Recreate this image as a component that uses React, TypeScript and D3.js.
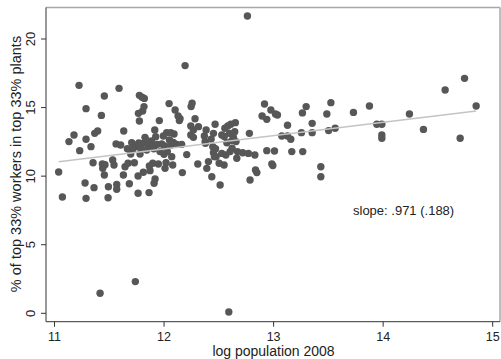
import React from "react";
import * as d3 from "d3";

// log population 2008 (x) and % of top 33% workers in top 33% plants (y)
const popX: number[] = [
  11.038, 11.072, 11.132, 11.178, 11.224, 11.23, 11.279, 11.288, 11.288, 11.288,
  11.333, 11.352, 11.361, 11.367, 11.394, 11.416, 11.428, 11.437, 11.44, 11.455,
  11.455, 11.461, 11.492, 11.489, 11.531, 11.543, 11.568, 11.568, 11.562, 11.589,
  11.604, 11.629, 11.632, 11.644, 11.665, 11.683, 11.671, 11.696, 11.705, 11.729,
  11.738, 11.747, 11.763, 11.763, 11.766, 11.775, 11.775, 11.781, 11.787, 11.799,
  11.805, 11.811, 11.817, 11.82, 11.811, 11.826, 11.842, 11.857, 11.863, 11.866,
  11.872, 11.887, 11.897, 11.906, 11.909, 11.915, 11.918, 11.924, 11.939, 11.957,
  11.963, 11.948, 11.979, 11.994, 12.003, 12.009, 12.018, 12.024, 12.03, 12.046,
  12.049, 12.061, 12.07, 12.079, 12.091, 12.101, 12.116, 12.128, 12.14, 12.146,
  12.161, 12.167, 12.192, 12.207, 12.247, 12.256, 12.244, 12.244, 12.268, 12.268,
  12.283, 12.308, 12.314, 12.368, 12.378, 12.39, 12.384, 12.405, 12.436, 12.445,
  12.451, 12.451, 12.466, 12.46, 12.475, 12.503, 12.512, 12.527, 12.548, 12.555,
  12.564, 12.573, 12.582, 12.591, 12.597, 12.603, 12.609, 12.621, 12.633, 12.645,
  12.651, 12.657, 12.664, 12.67, 12.718, 12.761, 12.77, 12.779, 12.785, 12.829,
  12.835, 12.847, 12.895, 12.917, 12.938, 12.938, 12.975, 12.984, 12.993, 13.008,
  13.017, 13.035, 13.075, 13.127, 13.127, 13.157, 13.166, 13.254, 13.263, 13.266,
  13.297, 13.352, 13.352, 13.431, 13.431, 13.486, 13.502, 13.523, 13.562, 13.729,
  13.875, 13.942, 13.988, 13.988, 13.988, 14.24, 14.368, 14.566, 14.703, 14.743,
  14.849,
  11.72, 11.77, 11.87, 11.9, 12.06, 12.0, 12.55, 12.62, 12.43, 12.47,
  12.527, 12.375, 11.715, 11.84, 12.085,
];
const shareY: number[] = [
  10.3, 8.48, 12.52, 13.0, 16.62, 11.86, 9.5, 8.38, 14.92, 12.69,
  12.15, 10.98, 9.16, 13.12, 13.29, 1.46, 14.43, 10.89, 10.57, 15.84,
  10.08, 10.84, 9.23, 8.43, 11.18, 10.81, 9.4, 9.04, 12.35, 16.4,
  12.27, 10.08, 13.29, 10.69, 12.0, 9.45, 10.94, 11.62, 12.44, 10.98,
  2.31, 12.15, 8.75, 10.01, 14.58, 14.02, 15.89, 11.62, 12.05, 15.75,
  14.75, 12.39, 15.07, 15.67, 10.28, 12.83, 11.91, 12.2, 8.8, 10.74,
  10.4, 12.56, 10.94, 12.0, 9.48, 13.37, 9.79, 12.88, 12.32, 14.05,
  11.79, 10.89, 12.35, 12.93, 12.2, 10.57, 10.98, 13.17, 11.79, 15.29,
  12.64, 13.17, 11.42, 10.81, 13.07, 14.82, 12.32, 14.39, 14.05, 14.19,
  12.32, 10.26, 18.06, 11.57, 15.07, 15.31, 13.66, 13.0, 13.37, 12.83,
  14.19, 10.89, 13.61, 12.93, 12.39, 10.57, 13.37, 11.06, 9.96, 12.15,
  13.12, 11.71, 13.78, 11.42, 11.42, 10.94, 9.36, 13.0, 10.81, 13.49,
  11.54, 12.44, 13.66, 0.1, 13.12, 11.79, 13.78, 12.03, 12.83, 13.24,
  13.9, 12.52, 11.3, 11.79, 11.71, 21.68, 11.66, 13.12, 9.72, 11.54,
  10.45, 10.26, 14.39, 15.26, 14.14, 11.86, 14.82, 10.89, 10.77, 11.83,
  14.53, 14.46, 12.93, 13.71, 12.93, 12.69, 11.79, 13.17, 14.61, 11.79,
  15.07, 13.85, 13.17, 10.69, 9.96, 14.53, 13.32, 15.36, 13.49, 14.65,
  15.12, 13.78, 13.78, 13.0, 12.76, 14.53, 13.41, 16.28, 12.76, 17.13,
  15.12,
  12.3, 12.42, 12.5, 12.2, 12.25, 11.6, 12.9, 12.6, 12.7, 12.0,
  11.66, 12.52, 11.95, 12.6, 12.45,
];

const xTicks: number[] = [11, 12, 13, 14, 15];
const yTicks: number[] = [0, 5, 10, 15, 20];
const fitSlope = 0.971;
const fitIntercept = 0.335;
const slopeLabel = "slope: .971 (.188)";
const xTitle = "log population 2008";
const yTitle = "% of top 33% workers in top 33% plants";

const W = 501;
const H = 359;
const frame = { left: 46, right: 500, top: 7.5, bottom: 321.7 };
const FONT = "'Liberation Sans', Arial, Helvetica, sans-serif";

export default function App() {
  const x = d3.scaleLinear().domain([11, 15]).range([54.5, 492.7]);
  const y = d3.scaleLinear().domain([0, 20]).range([313.3, 39]);
  const [xmin, xmax] = d3.extent(popX) as [number, number];
  const fitLine = d3
    .line<number>()
    .x((d) => x(d))
    .y((d) => y(fitIntercept + fitSlope * d));

  return (
    <svg
      width={W}
      height={H}
      style={{ position: "absolute", left: 0, top: 0, background: "#fff" }}
      fontFamily={FONT}
    >
      <rect x={0} y={0} width={W} height={H} fill="#fff" />
      {/* outline top / right */}
      <line x1={frame.left} x2={frame.right} y1={frame.top} y2={frame.top} stroke="#a8a8a8" strokeWidth={1.5} />
      <line x1={frame.right} x2={frame.right} y1={frame.top} y2={frame.bottom} stroke="#a8a8a8" strokeWidth={1.5} />
      {/* axes */}
      <line x1={frame.left} x2={frame.left} y1={frame.top} y2={frame.bottom} stroke="#333" strokeWidth={1} />
      <line x1={frame.left} x2={frame.right} y1={frame.bottom} y2={frame.bottom} stroke="#333" strokeWidth={1} />

      {yTicks.map((t) => (
        <g key={"y" + t}>
          <line x1={frame.left - 5} x2={frame.left} y1={y(t)} y2={y(t)} stroke="#333" />
          <text
            transform={`translate(35,${y(t)}) rotate(-90)`}
            textAnchor="middle"
            fontSize={13}
            fill="#222"
          >
            {t}
          </text>
        </g>
      ))}
      {xTicks.map((t) => (
        <g key={"x" + t}>
          <line x1={x(t)} x2={x(t)} y1={frame.bottom} y2={frame.bottom + 5} stroke="#333" />
          <text x={x(t)} y={340.5} textAnchor="middle" fontSize={12.5} fill="#222">
            {t}
          </text>
        </g>
      ))}

      <text x={273.5} y={356.3} textAnchor="middle" fontSize={14} fill="#222">
        {xTitle}
      </text>
      <text
        transform={`translate(21,164) rotate(-90)`}
        textAnchor="middle"
        fontSize={14.5}
        fill="#222"
      >
        {yTitle}
      </text>

      {popX.map((px, i) => (
        <circle key={i} cx={x(px)} cy={y(shareY[i])} r={3.7} fill="#575757" />
      ))}

      <path d={fitLine([xmin, xmax]) || ""} stroke="#c4c4c4" strokeWidth={1.6} fill="none" />

      <text x={353} y={215} fontSize={13} fill="#222">
        {slopeLabel}
      </text>
    </svg>
  );
}
